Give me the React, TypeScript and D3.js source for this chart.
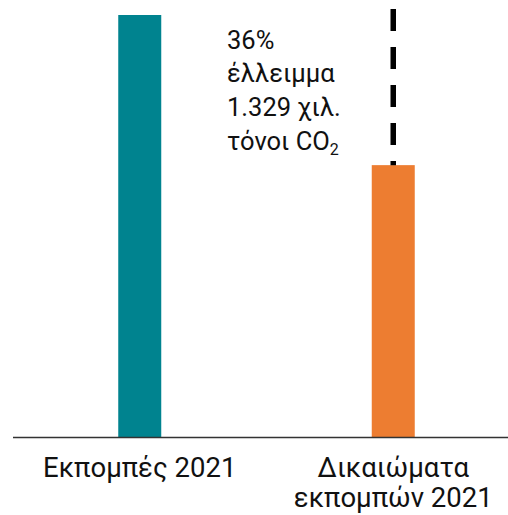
import React from "react";
import * as d3 from "d3";

const categories = ["Εκπομπές 2021", "Δικαιώματα εκπομπών 2021"];
const labelLines = [["Εκπομπές 2021"], ["Δικαιώματα", "εκπομπών 2021"]];
const values = [3692, 2380];
const colors = ["#00838F", "#ED7D31"];
const annotationLines = ["36%", "έλλειμμα", "1.329 χιλ.", "τόνοι CO"];

const W = 508;
const H = 515;
const baseY = 437.5;
const topY = 15;
const barW = 43;
const font = "Roboto, 'DejaVu Sans', sans-serif";
const sx = 1;

export default function App() {
  const x = d3.scalePoint<string>().domain(categories).range([13, 520]).padding(0.5);
  const y = d3.scaleLinear().domain([0, d3.max(values) as number]).range([baseY, topY]);
  const x2 = x(categories[1]) as number;

  return (
    <svg width={W} height={H} style={{ position: "absolute", left: 0, top: 0 }} fontFamily={font}>
      {values.map((v, i) => {
        const cx = x(categories[i]) as number;
        return (
          <rect key={i} x={cx - barW / 2} y={y(v)} width={barW} height={baseY - y(v)} fill={colors[i]} />
        );
      })}
      <line
        x1={x2}
        x2={x2}
        y1={y(values[0]) - 6}
        y2={y(values[1])}
        stroke="#000"
        strokeWidth={5.5}
        strokeDasharray="22 16"
      />
      <line x1={13} x2={508} y1={baseY} y2={baseY} stroke="#333" strokeWidth={1.6} />
      {labelLines.map((lines, i) => {
        const cx = x(categories[i]) as number;
        return (
          <g key={i} transform={`translate(${cx},0) scale(${sx},1)`}>
            {lines.map((t, j) => (
              <text key={j} x={0} y={477 + j * 30} textAnchor="middle" fontSize={27.5} fill="#111">
                {t}
              </text>
            ))}
          </g>
        );
      })}
      <g transform={`translate(227,0) scale(${sx},1)`}>
        {annotationLines.map((t, j) => (
          <text key={j} x={0} y={48.5 + j * 33.8} fontSize={25.5} fill="#111">
            {t}
            {j === annotationLines.length - 1 ? (
              <tspan fontSize={16} dy={5}>2</tspan>
            ) : null}
          </text>
        ))}
      </g>
    </svg>
  );
}
